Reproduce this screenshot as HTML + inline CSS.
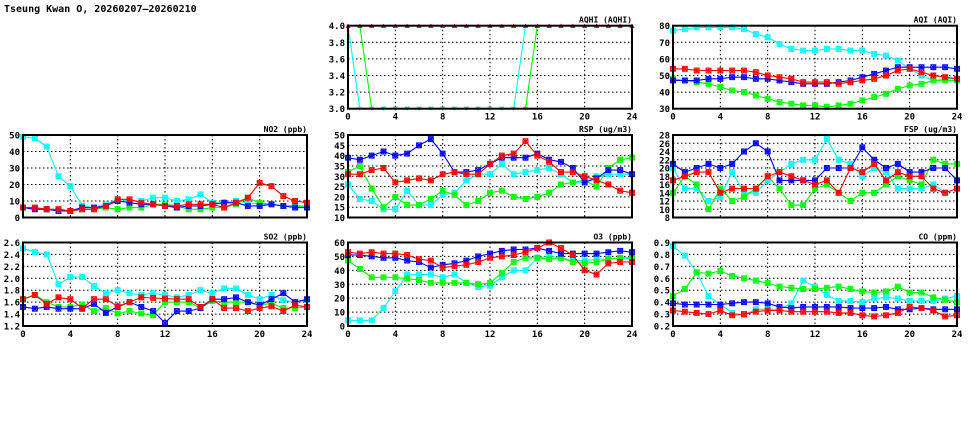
<!DOCTYPE html>
<html><head><meta charset="utf-8">
<style>
html,body{margin:0;padding:0;background:#fff;width:975px;height:447px;overflow:hidden}
svg{display:block}
text{font-family:"DejaVu Sans Mono","Liberation Mono",monospace;font-weight:bold;fill:#000}
</style></head>
<body>
<svg id="chart" width="975" height="447">
<text x="4" y="12" font-size="10">Tseung Kwan O, 20260207–20260210</text>
</svg>
<script>
const hours = [0,1,2,3,4,5,6,7,8,9,10,11,12,13,14,15,16,17,18,19,20,21,22,23,24];
const xTicks = [0,4,8,12,16,20,24];

const aqhiCyan  = [4,3,3,3,3,3,3,3,3,3,3,3,3,3,3,4,4,4,4,4,4,4,4,4,4];
const aqhiGreen = [4,4,3,3,3,3,3,3,3,3,3,3,3,3,3,3,4,4,4,4,4,4,4,4,4];
const aqhiBlue  = [4,4,4,4,4,4,4,4,4,4,4,4,4,4,4,4,4,4,4,4,4,4,4,4,4];
const aqhiRed   = [4,4,4,4,4,4,4,4,4,4,4,4,4,4,4,4,4,4,4,4,4,4,4,4,4];
const aqhiTicks = [3.0,3.2,3.4,3.6,3.8,4.0];

const aqiCyan  = [77,78,79,79,79,79,78,75,73,69,66,65,65,66,66,65,65,63,62,59,54,50,47,48,48];
const aqiGreen = [48,47,46,45,43,41,40,38,36,34,33,32,32,31,32,33,35,37,39,42,44,45,47,47,47];
const aqiBlue  = [47,47,47,48,48,49,49,48,48,47,46,45,45,45,46,47,49,51,53,55,55,55,55,55,54];
const aqiRed   = [54,54,53,53,53,53,53,52,50,49,48,46,46,46,45,46,47,48,50,53,54,52,50,49,48];
const aqiTicks = [30,40,50,60,70,80];

const no2Cyan  = [49,48,43,25,19,7,6,8,11,10,10,12,12,10,11,14,9,9,10,9,8,8,7,7,7];
const no2Green = [6,6,5,5,4,5,5,6,5,6,6,8,8,7,5,5,6,6,8,12,9,8,7,7,6];
const no2Blue  = [6,5,5,4,4,6,6,7,10,9,8,8,7,6,7,7,8,9,9,7,7,8,7,6,6];
const no2Red   = [6,6,5,5,4,5,5,7,11,11,9,8,7,7,8,8,8,6,9,12,21,19,13,10,9];
const no2Ticks = [0,10,20,30,40,50];

const rspCyan  = [26,19,18,14,14,23,16,16,21,22,28,31,31,36,31,32,33,34,31,27,27,30,31,31,31];
const rspGreen = [32,35,24,15,20,16,16,19,23,21,16,18,22,23,20,19,20,22,26,27,28,25,34,38,39];
const rspBlue  = [39,38,40,42,40,41,45,48,41,32,32,33,36,39,39,39,41,38,37,34,27,29,33,33,31];
const rspRed   = [31,31,33,34,27,28,29,28,31,32,31,31,36,40,41,47,40,37,32,32,30,28,26,23,22];
const rspTicks = [10,15,20,25,30,35,40,45,50];

const fspCyan  = [20,15,15,12,13,19,14,14,17,19,21,22,22,27,22,21,18,20,19,15,15,15,16,14,15];
const fspGreen = [14,18,16,10,15,12,13,15,18,15,11,11,15,16,14,12,14,14,16,18,17,16,22,21,21];
const fspBlue  = [21,19,20,21,20,21,24,26,24,17,17,17,17,20,20,20,25,22,20,21,19,19,20,20,17];
const fspRed   = [17,18,19,19,14,15,15,15,18,19,18,17,16,17,14,20,19,21,17,19,18,18,15,14,15];
const fspTicks = [8,10,12,14,16,18,20,22,24,26,28];

const so2Cyan  = [2.5,2.44,2.4,1.9,2.02,2.02,1.87,1.75,1.8,1.75,1.72,1.75,1.72,1.68,1.72,1.8,1.75,1.83,1.83,1.72,1.65,1.72,1.63,1.6,1.63];
const so2Green = [1.65,1.72,1.6,1.52,1.52,1.56,1.45,1.5,1.41,1.45,1.41,1.38,1.6,1.6,1.6,1.5,1.62,1.6,1.6,1.6,1.55,1.58,1.5,1.5,1.52];
const so2Blue  = [1.52,1.49,1.52,1.49,1.49,1.49,1.57,1.42,1.52,1.6,1.52,1.45,1.25,1.45,1.45,1.5,1.65,1.65,1.68,1.6,1.55,1.65,1.75,1.6,1.65];
const so2Red   = [1.65,1.72,1.57,1.68,1.65,1.5,1.65,1.65,1.53,1.6,1.68,1.67,1.66,1.65,1.65,1.52,1.65,1.5,1.5,1.45,1.5,1.53,1.45,1.55,1.52];
const so2Ticks = [1.2,1.4,1.6,1.8,2.0,2.2,2.4,2.6];

const o3Cyan  = [4,4,4,13,25,37,37,37,35,37,31,28,29,35,40,40,49,50,49,47,47,48,48,49,48];
const o3Green = [47,41,35,35,35,34,33,31,31,31,31,30,31,38,46,49,49,48,49,46,45,46,48,49,49];
const o3Blue  = [51,51,50,49,49,47,46,42,44,45,47,50,52,54,55,55,56,54,52,52,52,52,53,54,53];
const o3Red   = [53,52,53,52,52,51,48,47,42,43,44,46,49,50,51,53,56,60,56,51,40,37,45,46,46];
const o3Ticks = [0,10,20,30,40,50,60];

const coCyan  = [.87,.79,.65,.45,.38,.31,.29,.34,.34,.34,.39,.58,.53,.46,.41,.41,.40,.43,.44,.43,.41,.41,.41,.43,.45];
const coGreen = [.45,.51,.65,.64,.66,.62,.60,.58,.56,.53,.52,.51,.51,.52,.53,.51,.49,.48,.49,.53,.48,.48,.44,.42,.40];
const coBlue  = [.39,.38,.38,.38,.38,.39,.40,.40,.39,.36,.35,.36,.36,.36,.36,.35,.35,.35,.36,.34,.34,.35,.34,.34,.34];
const coRed   = [.33,.32,.31,.30,.33,.29,.30,.32,.33,.33,.32,.32,.32,.32,.31,.31,.29,.28,.29,.31,.36,.35,.33,.28,.29];
const coTicks = [0.2,0.3,0.4,0.5,0.6,0.7,0.8,0.9];

const NS = "http://www.w3.org/2000/svg";
const svg = document.getElementById('chart');
const cols = [[348,632],[673,957],[23,307]];
function mk(tag, attrs, parent){
  const e = document.createElementNS(NS, tag);
  for (const k in attrs) e.setAttribute(k, attrs[k]);
  (parent||svg).appendChild(e);
  return e;
}
const panels = [
  {id:'aqhi', title:'AQHI (AQHI)', x:cols[0], y:[25.7,108.7], ticks:aqhiTicks, dec:1, xl:true, series:[aqhiCyan,aqhiGreen,aqhiBlue,aqhiRed], tri:true},
  {id:'aqi', title:'AQI (AQI)', x:cols[1], y:[25.7,108.7], ticks:aqiTicks, dec:0, xl:true, series:[aqiCyan,aqiGreen,aqiBlue,aqiRed]},
  {id:'no2', title:'NO2 (ppb)', x:cols[2], y:[135,217.5], ticks:no2Ticks, dec:0, xl:false, series:[no2Cyan,no2Green,no2Blue,no2Red]},
  {id:'rsp', title:'RSP (ug/m3)', x:cols[0], y:[135,217.5], ticks:rspTicks, dec:0, xl:false, series:[rspCyan,rspGreen,rspBlue,rspRed]},
  {id:'fsp', title:'FSP (ug/m3)', x:cols[1], y:[135,217.5], ticks:fspTicks, dec:0, xl:false, series:[fspCyan,fspGreen,fspBlue,fspRed]},
  {id:'so2', title:'SO2 (ppb)', x:cols[2], y:[242.5,326], ticks:so2Ticks, dec:1, xl:true, series:[so2Cyan,so2Green,so2Blue,so2Red]},
  {id:'o3', title:'O3 (ppb)', x:cols[0], y:[242.5,326], ticks:o3Ticks, dec:0, xl:true, series:[o3Cyan,o3Green,o3Blue,o3Red]},
  {id:'co', title:'CO (ppm)', x:cols[1], y:[242.5,326], ticks:coTicks, dec:1, xl:true, series:[coCyan,coGreen,coBlue,coRed]}
];
const colors = ['#00ffff','#00ff00','#0000ff','#ff0000'];
const sNames = ['cyan','green','blue','red'];
panels.forEach(p=>{
  const x0=p.x[0], x1=p.x[1], yt=p.y[0], yb=p.y[1];
  const tmin=p.ticks[0], tmax=p.ticks[p.ticks.length-1];
  const sx = h => x0 + (h-0)/24*(x1-x0);
  const sy = v => yb - (v-tmin)/(tmax-tmin)*(yb-yt);
  const g = mk('g',{});
  
  
  const t = mk('text',{x:x1,y:yt-3,'font-size':'8','text-anchor':'end'},g);
  t.textContent = p.title;
  
  
  p.ticks.forEach(v=>{
    const y = sy(v);
    if (v!==tmin && v!==tmax) mk('line',{x1:x0,x2:x1,y1:y,y2:y,stroke:'#000','stroke-width':1,'stroke-dasharray':'1.5,2.5'},g);
    const lt = mk('text',{x:x0-3,y:y+3.5,'font-size':'9','text-anchor':'end'},g);
    lt.textContent = v.toFixed(p.dec);
    
    
  });
  xTicks.forEach(h=>{
    const x = sx(h);
    if (h!==0 && h!==24) mk('line',{x1:x,x2:x,y1:yt,y2:yb,stroke:'#000','stroke-width':1,'stroke-dasharray':'1.5,2.5'},g);
    if (p.xl){
      const xt = mk('text',{x:x,y:yb+11,'font-size':'9','text-anchor':'middle'},g);
      xt.textContent = h;
      
      
    }
  });
  p.series.forEach((arr,si)=>{
    const col = colors[si];
    const sg = mk('g',{},g);
    
    
    const pts = arr.map((v,i)=>sx(hours[i]).toFixed(1)+','+sy(v).toFixed(1)).join(' ');
    mk('polyline',{points:pts,fill:'none',stroke:col,'stroke-width':1.1},sg);
    arr.forEach((v,i)=>{
      const cx=sx(hours[i]), cy=sy(v);
      let m;
      if (p.tri){
        const up = v>=3.5;
        const d = up ? `M${cx-2.5},${cy+2}L${cx+2.5},${cy+2}L${cx},${cy-2}Z` : `M${cx-2.5},${cy-2}L${cx+2.5},${cy-2}L${cx},${cy+2}Z`;
        m = mk('path',{d:d,fill:col},sg);
      } else {
        m = mk('path',{d:`M${cx-2.5},${cy-2.5}h5v5h-5zM${cx-2.5},${cy-2.5}L${cx+2.5},${cy+2.5}M${cx-2.5},${cy+2.5}L${cx+2.5},${cy-2.5}M${cx},${cy-3}V${cy+3}M${cx-3},${cy}H${cx+3}`,fill:col,'fill-opacity':0.3,stroke:col,'stroke-width':0.9},sg);
      }
      
      
    });
  });
  mk('rect',{x:x0,y:yt,width:x1-x0,height:yb-yt,fill:'none',stroke:'#000','stroke-width':2},g);
});
</script>
</body></html>
